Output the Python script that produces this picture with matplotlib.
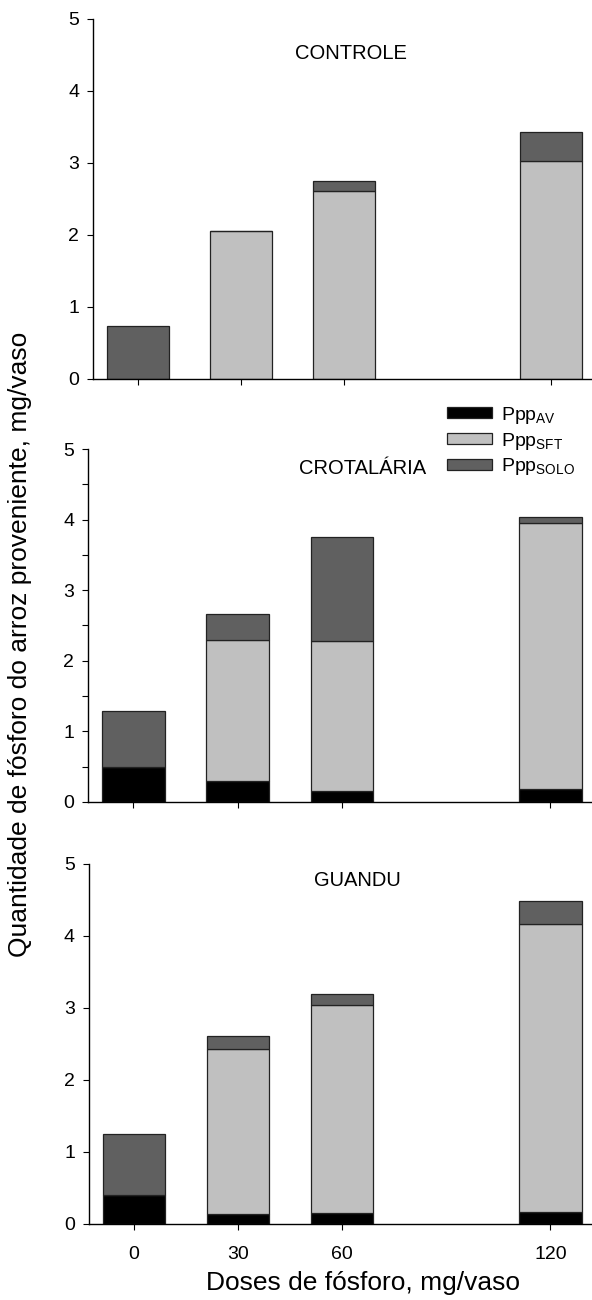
import numpy as np
import matplotlib as mpl
mpl.use('Agg')
import matplotlib.pyplot as plt

plt.rcParams['font.family'] = ['Liberation Sans', 'DejaVu Sans']
plt.rcParams['mathtext.fontset'] = 'custom'
plt.rcParams['mathtext.rm'] = 'Liberation Sans'

# doses de fosforo (mg/vaso)
doses = [0, 30, 60, 120]

# parcelas de cada barra (mg/vaso)
controle_av = [0.0, 0.0, 0.0, 0.0]
controle_sft = [0.0, 2.06, 2.615, 3.03]
controle_solo = [0.73, 0.0, 0.13, 0.40]

crot_av = [0.50, 0.29, 0.155, 0.19]
crot_sft = [0.0, 2.01, 2.125, 3.76]
crot_solo = [0.79, 0.36, 1.48, 0.08]

guandu_av = [0.40, 0.135, 0.15, 0.16]
guandu_sft = [0.0, 2.295, 2.89, 4.00]
guandu_solo = [0.85, 0.18, 0.16, 0.32]

titles = ['CONTROLE', 'CROTALÁRIA', 'GUANDU']
labels = ['Ppp$_{\\mathregular{AV}}$', 'Ppp$_{\\mathregular{SFT}}$', 'Ppp$_{\\mathregular{SOLO}}$']
cores = ['#000000', '#c0c0c0', '#606060']

fig = plt.figure(figsize=(5.92, 13), dpi=100)

# posicoes dos paineis (fracao da figura)
ax1 = fig.add_axes([0.157, 0.7085, 0.843, 0.2769])
ax2 = fig.add_axes([0.149, 0.3831, 0.851, 0.2715])
ax3 = fig.add_axes([0.150, 0.0585, 0.850, 0.2769])

paineis = [(ax1, controle_av, controle_sft, controle_solo),
           (ax2, crot_av, crot_sft, crot_solo),
           (ax3, guandu_av, guandu_sft, guandu_solo)]

#posicao dos titulos dentro de cada painel (dados)
titulo_pos = [(62, 4.52), (66, 4.72), (64.5, 4.77)]

handles = []
for i, (ax, av, sft, solo) in enumerate(paineis):
    av = np.array(av)
    sft = np.array(sft)
    solo = np.array(solo)
    b1 = ax.bar(doses, av, width=18, color=cores[0], edgecolor='#222222', linewidth=0.9)
    b2 = ax.bar(doses, sft, width=18, bottom=av, color=cores[1], edgecolor='#222222', linewidth=0.9)
    b3 = ax.bar(doses, solo, width=18, bottom=av + sft, color=cores[2], edgecolor='#222222', linewidth=0.9)
    if i == 1:
        handles = [b1, b2, b3]

    ax.set_xlim(-13, 132)
    ax.set_ylim(0, 5)
    ax.set_yticks([0, 1, 2, 3, 4, 5])
    ax.set_xticks(doses)
    ax.spines['top'].set_visible(False)
    ax.spines['right'].set_visible(False)
    ax.spines['left'].set_linewidth(1)
    ax.spines['bottom'].set_linewidth(1)
    ax.tick_params(axis='y', direction='out', length=4, width=0.8, pad=6, labelsize=14)
    ax.tick_params(axis='x', direction='out', length=4, width=0.8, pad=12, labelsize=14)
    if i < 2:
        ax.set_xticklabels([])
    ax.text(titulo_pos[i][0], titulo_pos[i][1], titles[i], ha='center', va='center', fontsize=14.5)

# minor ticks so no painel do meio
ax2.set_yticks(np.arange(0.5, 5, 1), minor=True)
ax2.tick_params(axis='y', which='minor', direction='out', length=4, width=0.8)

leg = ax2.legend(handles, labels, loc='center left', bbox_to_anchor=(447 / 592, 1 - 441 / 1300),
                 bbox_transform=fig.transFigure, frameon=False, fontsize=14,
                 handlelength=2.3, handleheight=0.5, labelspacing=0.25, handletextpad=0.5,
                 borderpad=0, borderaxespad=0)

fig.text(20 / 592, 1 - 644 / 1300, 'Quantidade de fósforo do arroz proveniente, mg/vaso',
         rotation=90, ha='center', va='center', fontsize=19)
fig.text(363 / 592, 1 - 1283 / 1300, 'Doses de fósforo, mg/vaso', ha='center', va='center', fontsize=19)

fig.savefig('out.png', dpi=100)
